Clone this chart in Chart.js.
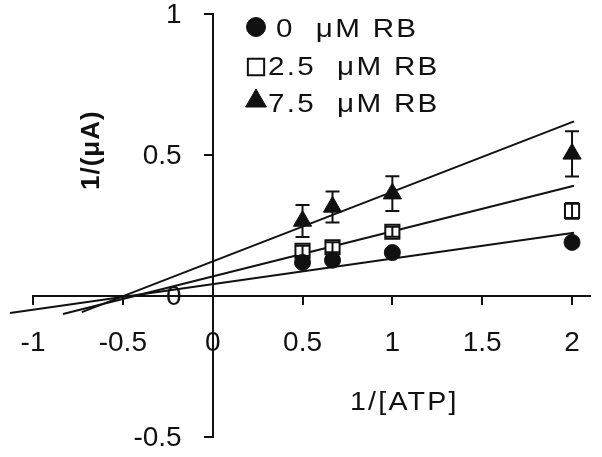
<!DOCTYPE html>
<html lang="en">
<head>
    <meta charset="UTF-8" />
    <title>Lineweaver-Burk plot, RB</title>
    <script src="https://cdn.jsdelivr.net/npm/chart.js"></script>
    <style>
        html, body { margin: 0; padding: 0; background: #fff; }
        #wrap { width: 602px; height: 457px; }
    </style>
</head>
<body>
    <div id="wrap"><canvas id="lbChart" width="602" height="457"></canvas></div>

    <script>
        // 1/[ATP] values and 1/(uA) readings per RB concentration
        const atpInv = [0.5, 0.667, 1, 2];
        const rb0 = [0.119, 0.127, 0.154, 0.190];
        const rb0Err = [0.01, 0.01, 0.01, 0.01];
        const rb25 = [0.160, 0.173, 0.228, 0.302];
        const rb25Err = [0.018, 0.018, 0.018, 0.028];
        const rb75 = [0.266, 0.316, 0.363, 0.504];
        const rb75Err = [0.057, 0.055, 0.062, 0.08];

        // regression lines, end points
        const fit0X = [-1.128, 2.011];
        const fit0Y = [-0.060, 0.224];
        const fit25X = [-0.833, 2.011];
        const fit25Y = [-0.064, 0.391];
        const fit75X = [-0.728, 2.011];
        const fit75Y = [-0.057, 0.619];

        const xTicks = [-1, -0.5, 0, 0.5, 1, 1.5, 2];
        const yTicks = [-0.5, 0, 0.5, 1];
        const legendLabels = ["0  \u03bcM RB", "2.5  \u03bcM RB", "7.5  \u03bcM RB"];
        const xTitle = "1/[ATP]";
        const yTitle = "1/(\u03bcA)";

        const FONT = "'Liberation Sans', Arial, sans-serif";
        const INK = "#111";

        const pts = (xs, ys) => xs.map((x, i) => ({ x: x, y: ys[i] }));

        const markerStyles = [
            { pointStyle: "circle", radius: 8, bg: INK, bw: 1 },
            { pointStyle: "rect", radius: 10, bg: "#fff", bw: 2 },
            { pointStyle: "triangle", radius: 10.5, bg: INK, bw: 1 }
        ];

        function scatterSet(label, ys, errs, m) {
            return {
                type: "scatter",
                label: label,
                data: pts(atpInv, ys),
                errors: errs,
                pointStyle: m.pointStyle,
                pointRadius: m.radius,
                pointBackgroundColor: m.bg,
                pointBorderColor: INK,
                pointBorderWidth: m.bw
            };
        }

        function fitSet(xs, ys) {
            return {
                type: "line",
                data: pts(xs, ys),
                borderColor: INK,
                borderWidth: 2,
                pointRadius: 0,
                clip: false
            };
        }

        // error bars drawn right after their own dataset
        const errorBars = {
            id: "errorBars",
            afterDatasetDraw(chart, args) {
                const ds = chart.data.datasets[args.index];
                if (!ds.errors) return;
                const xs = chart.scales.x, ys = chart.scales.y;
                const ctx = chart.ctx;
                ctx.save();
                ctx.strokeStyle = INK;
                ctx.lineWidth = 2;
                ds.data.forEach((p, i) => {
                    const e = ds.errors[i];
                    const px = xs.getPixelForValue(p.x);
                    const top = ys.getPixelForValue(p.y + e);
                    const bot = ys.getPixelForValue(p.y - e);
                    ctx.beginPath();
                    ctx.moveTo(px, top); ctx.lineTo(px, bot);
                    ctx.moveTo(px - 7, top); ctx.lineTo(px + 7, top);
                    ctx.moveTo(px - 7, bot); ctx.lineTo(px + 7, bot);
                    ctx.stroke();
                });
                ctx.restore();
            }
        };

        // y labels of an axis placed at x = 0 sit on the axis line; push them left of the ticks
        const yLabelShift = {
            id: "yLabelShift",
            beforeDraw(chart) {
                chart.scales.y.getLabelItems(chart.chartArea).forEach(item => {
                    if (item.shifted) return;
                    item.options.translation[0] -= 31;
                    item.options.translation[1] += 1;
                    item.shifted = true;
                });
            }
        };

        // the source figure's lettering is a little wide, so stretch it sideways
        function wideText(ctx, txt, x, y, sx) {
            ctx.save();
            ctx.translate(x, y);
            ctx.scale(sx, 1);
            ctx.fillText(txt, 0, 0);
            ctx.restore();
        }

        // legend in the top right and the two axis titles
        const decorations = {
            id: "decorations",
            afterDraw(chart) {
                const ctx = chart.ctx;
                ctx.save();
                ctx.strokeStyle = INK;
                ctx.textBaseline = "middle";
                ctx.textAlign = "left";
                ctx.font = "26px " + FONT;
                ctx.letterSpacing = "2px";
                const rowY = [29, 67, 104];
                const markY = [27, 67, 101];
                const textX = [276, 268, 268];
                legendLabels.forEach((txt, i) => {
                    const m = markerStyles[i];
                    ctx.fillStyle = m.bg;
                    ctx.lineWidth = m.bw;
                    Chart.helpers.drawPoint(ctx, { pointStyle: m.pointStyle, radius: m.radius + 1.5, borderWidth: m.bw }, 256, markY[i]);
                    ctx.fillStyle = INK;
                    wideText(ctx, txt, textX[i], rowY[i] + 1, 1.14);
                });

                wideText(ctx, xTitle, 350, 403, 1.1);

                ctx.translate(92, 190);
                ctx.rotate(-Math.PI / 2);
                ctx.font = "bold 26px " + FONT;
                ctx.letterSpacing = "1px";
                ctx.fillText(yTitle, 0, 0);
                ctx.restore();
            }
        };

        function axisOpts(min, max, ticks, pos, isX) {
            return {
                type: "linear",
                position: pos,
                min: min,
                max: max,
                afterBuildTicks: s => { s.ticks = ticks.map(v => ({ value: v })); },
                afterFit: s => {
                    // keep the crossing axes from eating into the plot area
                    if (isX) { s.height = 0; s.paddingLeft = 0; s.paddingRight = 0; }
                    else { s.width = 0; s.paddingTop = 0; s.paddingBottom = 0; }
                },
                grid: { drawOnChartArea: false, drawTicks: true, tickLength: 8, color: INK, lineWidth: 2 },
                border: { display: true, color: INK, width: 2 },
                ticks: {
                    color: INK,
                    font: { size: 28, family: FONT },
                    padding: 22,
                    maxRotation: 0,
                    autoSkip: false,
                    callback: v => String(v)
                }
            };
        }

        new Chart(document.getElementById("lbChart"), {
            data: {
                datasets: [
                    scatterSet("0 uM RB", rb0, rb0Err, markerStyles[0]),
                    scatterSet("2.5 uM RB", rb25, rb25Err, markerStyles[1]),
                    scatterSet("7.5 uM RB", rb75, rb75Err, markerStyles[2]),
                    fitSet(fit0X, fit0Y),
                    fitSet(fit25X, fit25Y),
                    fitSet(fit75X, fit75Y)
                ]
            },
            options: {
                responsive: false,
                animation: false,
                devicePixelRatio: 1,
                layout: { padding: { left: 33, right: 11, top: 14, bottom: 20 } },
                plugins: { legend: { display: false }, tooltip: { enabled: false } },
                scales: {
                    x: axisOpts(-1, 2.1, xTicks, { y: 0 }, true),
                    y: axisOpts(-0.5, 1, yTicks, { x: 0 }, false)
                }
            },
            plugins: [errorBars, yLabelShift, decorations]
        });
    </script>
</body>
</html>
